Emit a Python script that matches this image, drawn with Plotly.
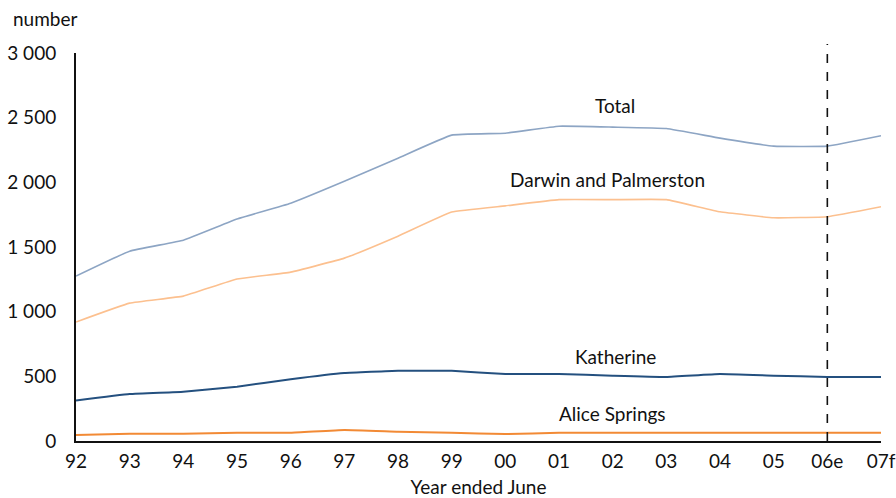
import plotly.graph_objects as go

years = ["92", "93", "94", "95", "96", "97", "98", "99", "00", "01", "02", "03", "04", "05", "06e", "07f"]
total = [1275, 1468, 1553, 1716, 1839, 2009, 2187, 2365, 2380, 2434, 2427, 2416, 2342, 2280, 2280, 2360]
darwin = [920, 1066, 1120, 1252, 1306, 1414, 1584, 1770, 1818, 1866, 1866, 1866, 1772, 1726, 1734, 1811]
katherine = [314, 363, 381, 420, 477, 525, 543, 543, 518, 518, 505, 495, 518, 505, 495, 495]
alice = [46, 56, 56, 64, 64, 85, 72, 64, 54, 64, 64, 64, 64, 64, 64, 64]

series = [
    ("Total", total, "#8da5c4", 1.6),
    ("Darwin and Palmerston", darwin, "#fcc08f", 1.6),
    ("Katherine", katherine, "#24507f", 2.0),
    ("Alice Springs", alice, "#f28a35", 2.0),
]
labels = [
    ("Total", 10.05, 2597),
    ("Darwin and Palmerston", 9.9, 2022),
    ("Katherine", 10.05, 657),
    ("Alice Springs", 10.0, 209),
]

xi = list(range(len(years)))
FONT = "Lato, 'Open Sans', sans-serif"

fig = go.Figure()
for name, vals, col, w in series:
    fig.add_trace(go.Scatter(x=xi, y=vals, mode="lines", name=name,
                             line=dict(color=col, width=w, shape="spline", smoothing=0.3),
                             showlegend=False, hoverinfo="skip"))

for text, x, y in labels:
    fig.add_annotation(x=x, y=y, text=text, showarrow=False,
                       font=dict(family=FONT, size=19, color="#111111"))

fig.add_annotation(xref="paper", yref="paper", x=-0.081, y=1.055, text="number",
                   showarrow=False, xanchor="left", yanchor="bottom",
                   font=dict(family=FONT, size=19, color="#111111"))

fig.add_shape(type="line", xref="x", yref="paper", x0=14, x1=14, y0=0, y1=1.023,
              line=dict(color="#111111", width=1.6, dash="dash"))

fig.update_layout(
    width=896, height=498,
    margin=dict(l=76, r=15, t=53, b=57, autoexpand=False),
    paper_bgcolor="white", plot_bgcolor="white",
    separators=". ",
    font=dict(family=FONT, size=19, color="#111111"),
    xaxis=dict(range=[0, 15], tickmode="array", tickvals=xi, ticktext=years,
               showgrid=False, zeroline=False, showline=True, linecolor="#111111",
               linewidth=2, ticks="", tickfont=dict(size=19), ticklabelstandoff=2,
               title=dict(text="Year ended June", font=dict(size=19), standoff=11)),
    yaxis=dict(range=[0, 3000], tickvals=[0, 500, 1000, 1500, 2000, 2500, 3000],
               tickformat=",d", showgrid=False, zeroline=False, showline=True,
               linecolor="#111111", linewidth=2, ticks="", ticklabelstandoff=14,
               tickfont=dict(size=19)),
)

fig.write_html("out.html", config={"displayModeBar": False},
               post_script="document.body.style.margin='0';window.dispatchEvent(new Event('resize'));")
